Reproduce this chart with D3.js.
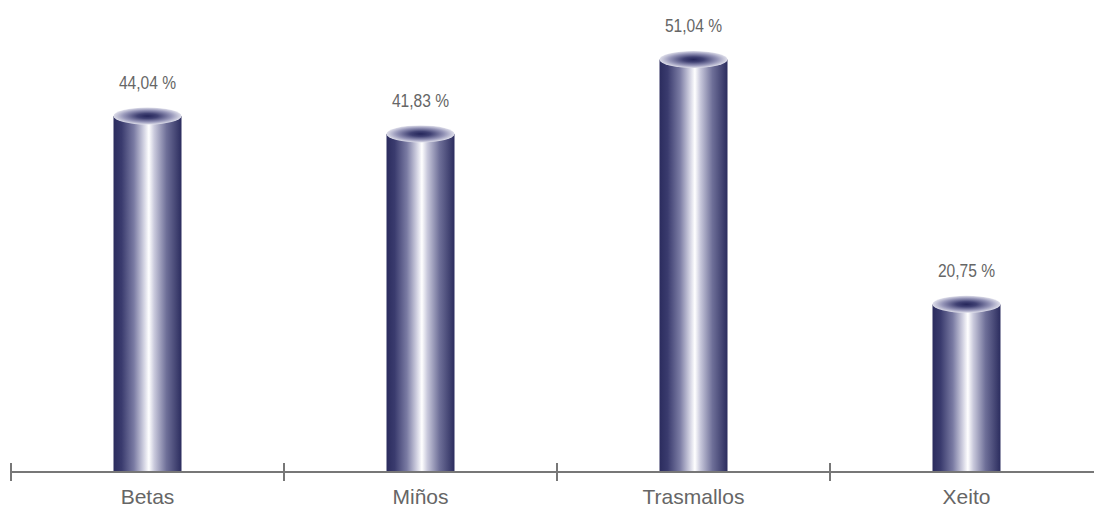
<!DOCTYPE html>
<html><head><meta charset="utf-8">
<script src="https://cdn.jsdelivr.net/npm/d3@7"></script>
<style>html,body{margin:0;padding:0;background:#fff;overflow:hidden}</style>
</head><body>
<svg id="c" width="1094" height="508"></svg>
<script>
const categories = ["Betas", "Miños", "Trasmallos", "Xeito"];
const values = [44.04, 41.83, 51.04, 20.75];
const valueLabels = ["44,04 %", "41,83 %", "51,04 %", "20,75 %"];

const svg = d3.select("#c");
const W = 1094, H = 508;
const x = d3.scaleBand().domain(categories).range([11, 1103]);
const y = d3.scaleLinear().domain([0, 58.4]).range([472, 0]);
const barW = 68, ry = 8.5;

const defs = svg.append("defs");
const lg = defs.append("linearGradient").attr("id", "body").attr("x1", 0).attr("x2", 1).attr("y1", 0).attr("y2", 0);
[[0, "#2b2c5e"], [0.12, "#3a3b6e"], [0.3, "#7a7ba3"], [0.45, "#d4d4e3"], [0.52, "#ffffff"], [0.6, "#c9c9dc"], [0.78, "#6e6f98"], [1, "#2b2c5e"]]
  .forEach(([o, c]) => lg.append("stop").attr("offset", o).attr("stop-color", c));
const rg = defs.append("radialGradient").attr("id", "top").attr("cx", 0.5).attr("cy", 0.5).attr("r", 0.5);
[[0, "#25265a"], [0.3, "#414274"], [0.7, "#9595b8"], [1, "#dedeea"]]
  .forEach(([o, c]) => rg.append("stop").attr("offset", o).attr("stop-color", c));

const g = svg.append("g");
categories.forEach((c, i) => {
  const cx = x(c) + x.bandwidth() / 2;
  const yt = y(values[i]);
  g.append("rect").attr("x", cx - barW / 2).attr("y", yt).attr("width", barW).attr("height", y(0) - yt).attr("fill", "url(#body)");
  g.append("ellipse").attr("cx", cx).attr("cy", yt).attr("rx", barW / 2).attr("ry", ry).attr("fill", "url(#top)");
  g.append("text").attr("transform", `translate(${cx},${yt - 27}) scale(0.82,1)`).attr("text-anchor", "middle")
    .attr("font-family", "'Liberation Sans', Arial, sans-serif").attr("font-size", 19).attr("fill", "#666")
    .text(valueLabels[i]);
});

// axis
const ax = svg.append("g");
ax.append("line").attr("x1", 11).attr("x2", W).attr("y1", 472).attr("y2", 472).attr("stroke", "#777").attr("stroke-width", 2);
const ticks = categories.map(c => x(c)).concat([x.range()[1]]);
ticks.forEach(t => ax.append("line").attr("x1", t).attr("x2", t).attr("y1", 463).attr("y2", 481).attr("stroke", "#777").attr("stroke-width", 2));
categories.forEach(c => {
  ax.append("text").attr("x", x(c) + x.bandwidth() / 2).attr("y", 504).attr("text-anchor", "middle")
    .attr("font-family", "'Liberation Sans', Arial, sans-serif").attr("font-size", 21).attr("fill", "#666").text(c);
});
</script>
</body></html>
